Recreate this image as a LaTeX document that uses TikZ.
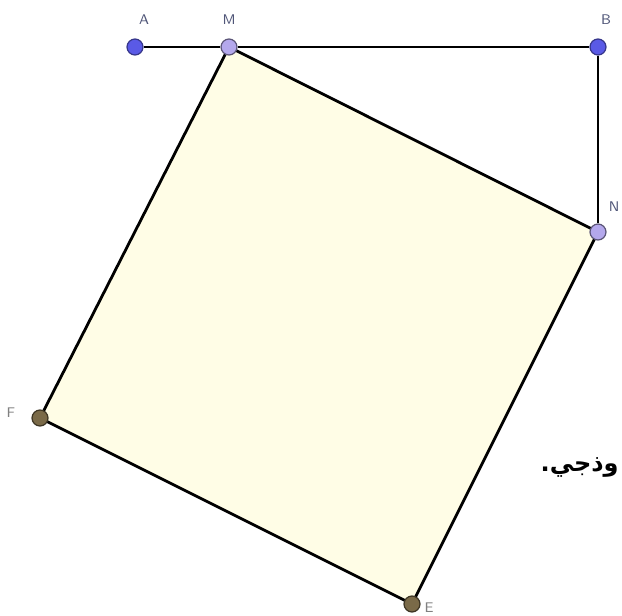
\documentclass[tikz,border=0pt]{standalone}
\usepackage{fontspec}
\usepackage{tikz}
\usetikzlibrary{backgrounds}
\newfontfamily\arabicfont[Script=Arabic]{DejaVu Sans}
\TeXXeTstate=1
\definecolor{ptblue}{RGB}{90,90,230}
\definecolor{ptlilac}{RGB}{180,168,236}
\definecolor{ptbrown}{RGB}{122,106,72}
\definecolor{sqfill}{RGB}{255,253,230}
\definecolor{lblblue}{RGB}{80,86,120}
\tikzset{
  pnt/.style={circle, draw=ptblue!60!black, fill=ptblue, line width=0.6pt, minimum size=8pt,
              inner sep=0pt},
  pntlight/.style={pnt, draw=ptlilac!50!black, fill=ptlilac},
  pntbrown/.style={pnt, draw=ptbrown!50!black, fill=ptbrown},
  seg/.style={line width=1.4pt, black},
  lbl/.style={font=\sffamily\scriptsize, text=lblblue},
  lblgray/.style={lbl, text=gray}
}
\begin{document}
\begin{tikzpicture}[x=0.5pt, y=-0.5pt]
  \useasboundingbox (0,0) rectangle (622,616);
  \node[pnt] (A) at (135,47) {};
  \node[pntlight] (M) at (229,47) {};
  \node[pnt] (B) at (598,47) {};
  \node[pntlight] (N) at (598,232) {};
  \node[pntbrown] (F) at (40,418) {};
  \node[pntbrown] (E) at (412,604) {};
  \node[lbl] (lA) at (144,20) {A};
  \node[lbl] (lM) at (229,20) {M};
  \node[lbl] (lB) at (606,20) {B};
  \node[lbl] (lN) at (614,207) {N};
  \node[lblgray] (lF) at (11,413) {F};
  \node[lblgray] (lE) at (429,608) {E};
  \node[anchor=east, inner sep=0pt, font=\arabicfont\large\bfseries] (txt) at (619,467) {\beginR وذجي.\endR};
  \begin{scope}[on background layer]
    \filldraw[seg, fill=sqfill] (M.center) -- (N.center) -- (E.center) -- (F.center) -- cycle;
    \draw[seg] (A) -- (M);
    \draw[seg] (M) -- (B);
    \draw[seg] (B) -- (N);
  \end{scope}
\end{tikzpicture}
\end{document}
